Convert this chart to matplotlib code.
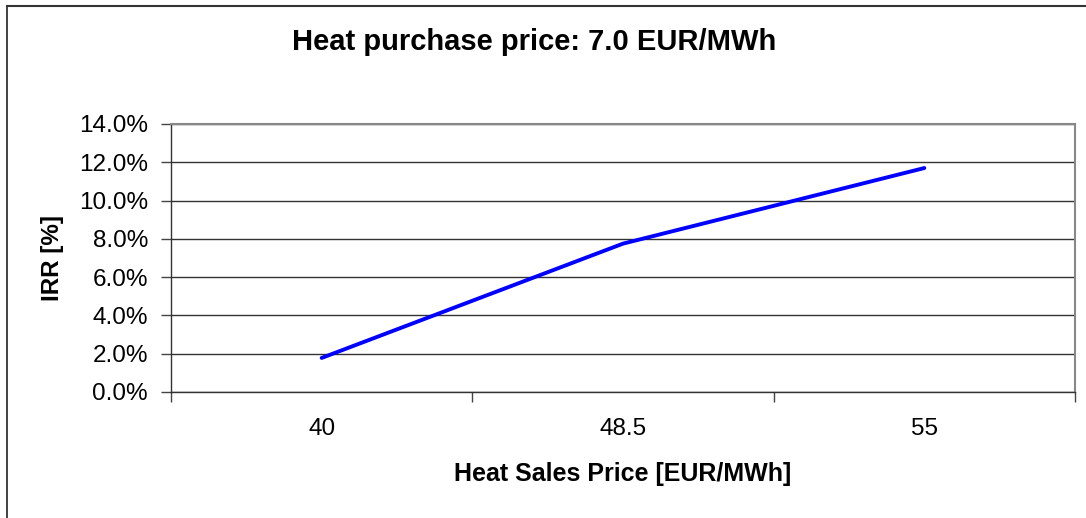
import matplotlib
matplotlib.use('Agg')
import matplotlib.pyplot as plt
from matplotlib.lines import Line2D
from matplotlib.ticker import FixedLocator, FuncFormatter

plt.rcParams['font.family'] = ['Liberation Sans', 'DejaVu Sans']

# data
sales_price = ['40', '48.5', '55']
irr = [1.78, 7.75, 11.70]  # percent

fig = plt.figure(figsize=(10.86, 5.18), dpi=100)
ax = fig.add_axes([171 / 1086, 1 - 392 / 518, 904 / 1086, 268 / 518])

x = list(range(len(sales_price)))
ax.plot(x, irr, color='#0000ff', lw=2.8, solid_capstyle='round', zorder=3)

ax.set_xlim(-0.5, len(sales_price) - 0.5)
ax.set_ylim(0, 14)

# category axis: tick marks between categories, labels centred
ax.xaxis.set_major_locator(FixedLocator([i - 0.5 for i in range(len(sales_price) + 1)]))
ax.xaxis.set_minor_locator(FixedLocator(x))
ax.set_xticklabels([])
ax.set_xticklabels(sales_price, minor=True)
ax.tick_params(axis='x', which='major', length=7, width=1, color='#444444', direction='out')
ax.tick_params(axis='x', which='minor', length=0, labelsize=17.5, pad=19)

ax.yaxis.set_major_locator(FixedLocator([0, 2, 4, 6, 8, 10, 12, 14]))
ax.yaxis.set_major_formatter(FuncFormatter(lambda v, p: '%.1f%%' % v))
ax.tick_params(axis='y', length=7, width=1, color='#444444', direction='out', labelsize=17.5, pad=9.5)

ax.grid(axis='y', color='#333333', lw=1)
ax.set_axisbelow(True)

for s in ['top', 'right']:
    ax.spines[s].set_color('#888888')
    ax.spines[s].set_linewidth(1.5)
for s in ['left', 'bottom']:
    ax.spines[s].set_color('#333333')
    ax.spines[s].set_linewidth(1)

fig.text(623 / 1086, 1 - 474 / 518, 'Heat Sales Price [EUR/MWh]', ha='center', va='center',
         fontsize=18, fontweight='bold')
fig.text(53 / 1086, 1 - 258 / 518, 'IRR [%]', ha='center', va='center', rotation=90,
         fontsize=17.5, fontweight='bold')
fig.text(534 / 1086, 1 - 42 / 518, 'Heat purchase price: 7.0 EUR/MWh',
         ha='center', va='center', fontsize=21, fontweight='bold')

# chart frame (top and left edges visible)
fig.add_artist(Line2D([7 / 1086, 7 / 1086], [0, 1 - 6 / 518], color='#222222', lw=1.2))
fig.add_artist(Line2D([7 / 1086, 1], [1 - 6 / 518, 1 - 6 / 518], color='#333333', lw=1.5))

fig.savefig('out.png', dpi=100)
